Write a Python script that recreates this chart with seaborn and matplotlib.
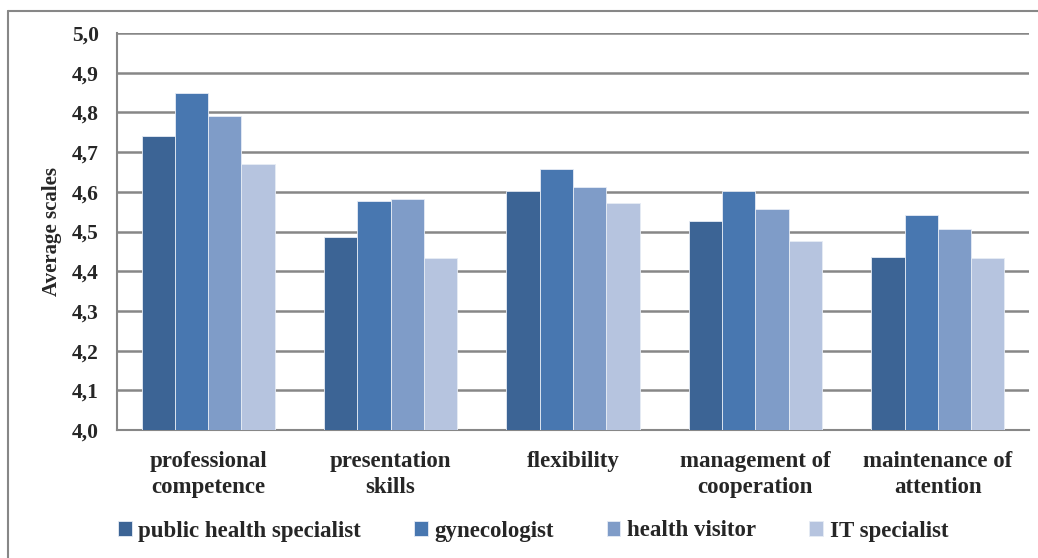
import numpy as np
import pandas as pd
import seaborn as sns
import matplotlib.pyplot as plt
from matplotlib.lines import Line2D
from matplotlib.ticker import FuncFormatter, FixedLocator

categories = ["professional\ncompetence", "presentation\nskills", "flexibility",
              "management of\ncooperation", "maintenance of\nattention"]
groups = ["public health specialist", "gynecologist", "health visitor", "IT specialist"]

public_health = [4.740, 4.487, 4.602, 4.526, 4.437]
gynecologist = [4.848, 4.577, 4.657, 4.602, 4.542]
health_visitor = [4.791, 4.582, 4.613, 4.557, 4.506]
it_specialist = [4.671, 4.432, 4.571, 4.475, 4.432]

colors = ["#3C6495", "#4877B0", "#7F9CC8", "#B6C4DF"]

rows = []
for g, vals in zip(groups, [public_health, gynecologist, health_visitor, it_specialist]):
    for c, v in zip(categories, vals):
        rows.append({"category": c, "group": g, "value": v})
df = pd.DataFrame(rows)

sns.set_style("white")
plt.rcParams["font.family"] = ["Liberation Serif", "DejaVu Serif"]
plt.rcParams["font.weight"] = "bold"

fig = plt.figure(figsize=(10.38, 5.58), dpi=100)
ax = fig.add_axes([117 / 1038, 1 - 430 / 558, (1029 - 117) / 1038, (430 - 33) / 558])

sns.barplot(data=df, x="category", y="value", hue="group", order=categories,
            hue_order=groups, palette=colors, saturation=1, width=0.73,
            edgecolor="#E6ECF5", linewidth=0.6, ax=ax, legend=True, zorder=3)

ax.set_ylim(4.0, 5.0)
ax.set_xlim(-0.5, 4.5)
ax.set_yticks(np.arange(4.0, 5.01, 0.1))
ax.yaxis.set_major_formatter(FuncFormatter(lambda v, p: f"{v:.1f}".replace(".", ",")))
ax.yaxis.grid(True, color="#878787", linewidth=1.8, zorder=0)
ax.set_axisbelow(True)

for s in ["top", "right"]:
    ax.spines[s].set_visible(False)
for s in ["left", "bottom"]:
    ax.spines[s].set_color("#878787")
    ax.spines[s].set_linewidth(1.5)

ax.tick_params(axis="y", direction="out", length=5, color="#878787", width=1.2,
               labelsize=15.5, pad=8)
ax.tick_params(axis="x", which="major", length=0, labelsize=16.5, pad=15)
ax.xaxis.set_minor_locator(FixedLocator(np.arange(-0.5, 4.6, 1.0)))
ax.tick_params(axis="x", which="minor", direction="out", length=5, color="#878787", width=1.2)
for lab in ax.get_xticklabels() + ax.get_yticklabels():
    lab.set_fontweight("bold")
for lab in ax.get_xticklabels():
    lab.set_linespacing(1.3)

ax.set_xlabel("")
ax.set_ylabel("Average scales", fontsize=15, fontweight="bold", labelpad=7)

handles, labels = ax.get_legend_handles_labels()
ax.get_legend().remove()
fig.legend(handles, labels, loc="center", bbox_to_anchor=(533 / 1038, 1 - 531 / 558),
           ncol=4, frameon=False, handlelength=0.6, handleheight=0.6,
           handletextpad=0.3, columnspacing=2.3, prop={"weight": "bold", "size": 16.5})

# outer chart frame (only top and left visible in the crop)
fig.add_artist(Line2D([8 / 1038, 8 / 1038], [0, 1 - 11 / 558], color="#878787", lw=1.5))
fig.add_artist(Line2D([8 / 1038, 1], [1 - 11 / 558, 1 - 11 / 558], color="#878787", lw=1.5))

fig.savefig("out.png", dpi=100)
